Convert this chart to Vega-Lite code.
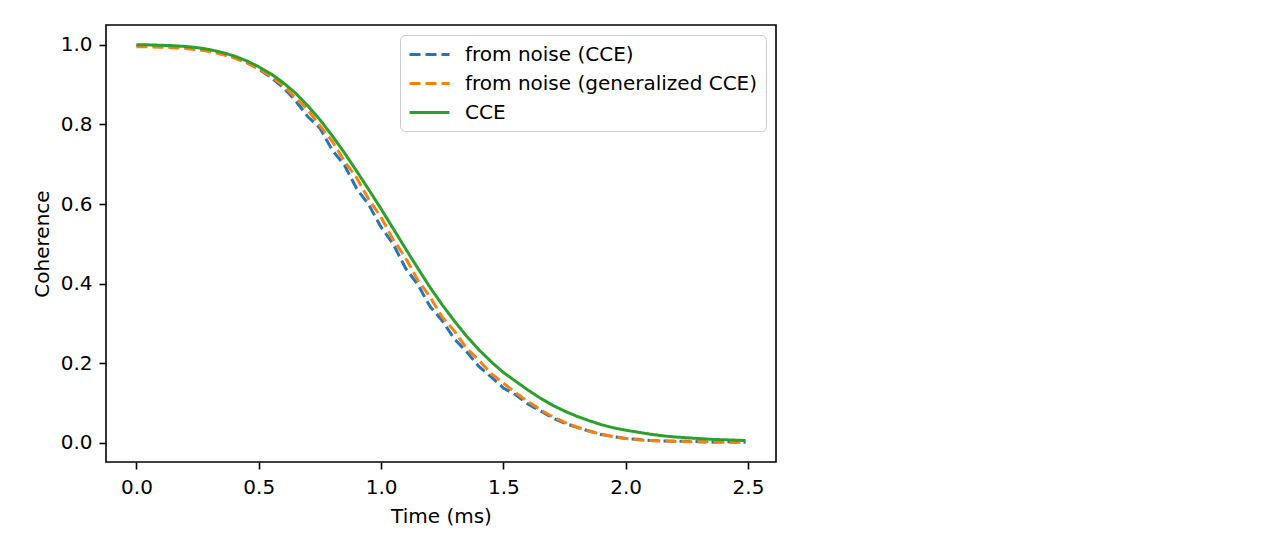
{
  "$schema": "https://vega.github.io/schema/vega-lite/v6.json",
  "width": 670,
  "height": 437,
  "autosize": {"type": "none"},
  "padding": {"left": 106, "top": 25, "right": 499, "bottom": 80},
  "background": "white",
  "datasets": {
    "blue": [
      {"t":0.00,"v":0.998,"s":"from noise (CCE)"},{"t":0.05,"v":0.999,"s":"from noise (CCE)"},{"t":0.10,"v":0.997,"s":"from noise (CCE)"},{"t":0.15,"v":0.996,"s":"from noise (CCE)"},{"t":0.20,"v":0.994,"s":"from noise (CCE)"},
      {"t":0.25,"v":0.990,"s":"from noise (CCE)"},{"t":0.30,"v":0.986,"s":"from noise (CCE)"},{"t":0.35,"v":0.978,"s":"from noise (CCE)"},{"t":0.40,"v":0.969,"s":"from noise (CCE)"},{"t":0.45,"v":0.956,"s":"from noise (CCE)"},
      {"t":0.50,"v":0.939,"s":"from noise (CCE)"},{"t":0.55,"v":0.918,"s":"from noise (CCE)"},{"t":0.60,"v":0.893,"s":"from noise (CCE)"},{"t":0.65,"v":0.860,"s":"from noise (CCE)"},{"t":0.70,"v":0.820,"s":"from noise (CCE)"},
      {"t":0.75,"v":0.791,"s":"from noise (CCE)"},{"t":0.80,"v":0.736,"s":"from noise (CCE)"},{"t":0.85,"v":0.698,"s":"from noise (CCE)"},{"t":0.90,"v":0.639,"s":"from noise (CCE)"},{"t":0.95,"v":0.598,"s":"from noise (CCE)"},
      {"t":1.00,"v":0.542,"s":"from noise (CCE)"},{"t":1.05,"v":0.499,"s":"from noise (CCE)"},{"t":1.10,"v":0.439,"s":"from noise (CCE)"},{"t":1.15,"v":0.398,"s":"from noise (CCE)"},{"t":1.20,"v":0.343,"s":"from noise (CCE)"},
      {"t":1.25,"v":0.307,"s":"from noise (CCE)"},{"t":1.30,"v":0.261,"s":"from noise (CCE)"},{"t":1.35,"v":0.229,"s":"from noise (CCE)"},{"t":1.40,"v":0.192,"s":"from noise (CCE)"},{"t":1.45,"v":0.166,"s":"from noise (CCE)"},
      {"t":1.50,"v":0.138,"s":"from noise (CCE)"},{"t":1.55,"v":0.121,"s":"from noise (CCE)"},{"t":1.60,"v":0.098,"s":"from noise (CCE)"},{"t":1.65,"v":0.081,"s":"from noise (CCE)"},{"t":1.70,"v":0.063,"s":"from noise (CCE)"},
      {"t":1.75,"v":0.050,"s":"from noise (CCE)"},{"t":1.80,"v":0.039,"s":"from noise (CCE)"},{"t":1.85,"v":0.030,"s":"from noise (CCE)"},{"t":1.90,"v":0.021,"s":"from noise (CCE)"},{"t":1.95,"v":0.016,"s":"from noise (CCE)"},
      {"t":2.00,"v":0.011,"s":"from noise (CCE)"},{"t":2.05,"v":0.009,"s":"from noise (CCE)"},{"t":2.10,"v":0.006,"s":"from noise (CCE)"},{"t":2.15,"v":0.005,"s":"from noise (CCE)"},{"t":2.20,"v":0.004,"s":"from noise (CCE)"},
      {"t":2.25,"v":0.004,"s":"from noise (CCE)"},{"t":2.30,"v":0.003,"s":"from noise (CCE)"},{"t":2.35,"v":0.002,"s":"from noise (CCE)"},{"t":2.40,"v":0.003,"s":"from noise (CCE)"},{"t":2.45,"v":0.002,"s":"from noise (CCE)"},
      {"t":2.49,"v":0.002,"s":"from noise (CCE)"}
    ],
    "orange": [
      {"t":0.00,"v":0.995,"s":"from noise (generalized CCE)"},{"t":0.05,"v":0.995,"s":"from noise (generalized CCE)"},{"t":0.10,"v":0.994,"s":"from noise (generalized CCE)"},{"t":0.15,"v":0.993,"s":"from noise (generalized CCE)"},{"t":0.20,"v":0.991,"s":"from noise (generalized CCE)"},
      {"t":0.25,"v":0.988,"s":"from noise (generalized CCE)"},{"t":0.30,"v":0.983,"s":"from noise (generalized CCE)"},{"t":0.35,"v":0.976,"s":"from noise (generalized CCE)"},{"t":0.40,"v":0.967,"s":"from noise (generalized CCE)"},{"t":0.45,"v":0.955,"s":"from noise (generalized CCE)"},
      {"t":0.50,"v":0.940,"s":"from noise (generalized CCE)"},{"t":0.55,"v":0.921,"s":"from noise (generalized CCE)"},{"t":0.60,"v":0.898,"s":"from noise (generalized CCE)"},{"t":0.65,"v":0.867,"s":"from noise (generalized CCE)"},{"t":0.70,"v":0.837,"s":"from noise (generalized CCE)"},
      {"t":0.75,"v":0.797,"s":"from noise (generalized CCE)"},{"t":0.80,"v":0.758,"s":"from noise (generalized CCE)"},{"t":0.85,"v":0.708,"s":"from noise (generalized CCE)"},{"t":0.90,"v":0.666,"s":"from noise (generalized CCE)"},{"t":0.95,"v":0.611,"s":"from noise (generalized CCE)"},
      {"t":1.00,"v":0.567,"s":"from noise (generalized CCE)"},{"t":1.05,"v":0.510,"s":"from noise (generalized CCE)"},{"t":1.10,"v":0.465,"s":"from noise (generalized CCE)"},{"t":1.15,"v":0.409,"s":"from noise (generalized CCE)"},{"t":1.20,"v":0.367,"s":"from noise (generalized CCE)"},
      {"t":1.25,"v":0.316,"s":"from noise (generalized CCE)"},{"t":1.30,"v":0.281,"s":"from noise (generalized CCE)"},{"t":1.35,"v":0.237,"s":"from noise (generalized CCE)"},{"t":1.40,"v":0.208,"s":"from noise (generalized CCE)"},{"t":1.45,"v":0.174,"s":"from noise (generalized CCE)"},
      {"t":1.50,"v":0.150,"s":"from noise (generalized CCE)"},{"t":1.55,"v":0.126,"s":"from noise (generalized CCE)"},{"t":1.60,"v":0.104,"s":"from noise (generalized CCE)"},{"t":1.65,"v":0.084,"s":"from noise (generalized CCE)"},{"t":1.70,"v":0.066,"s":"from noise (generalized CCE)"},
      {"t":1.75,"v":0.052,"s":"from noise (generalized CCE)"},{"t":1.80,"v":0.040,"s":"from noise (generalized CCE)"},{"t":1.85,"v":0.030,"s":"from noise (generalized CCE)"},{"t":1.90,"v":0.022,"s":"from noise (generalized CCE)"},{"t":1.95,"v":0.016,"s":"from noise (generalized CCE)"},
      {"t":2.00,"v":0.011,"s":"from noise (generalized CCE)"},{"t":2.05,"v":0.008,"s":"from noise (generalized CCE)"},{"t":2.10,"v":0.006,"s":"from noise (generalized CCE)"},{"t":2.15,"v":0.005,"s":"from noise (generalized CCE)"},{"t":2.20,"v":0.004,"s":"from noise (generalized CCE)"},
      {"t":2.25,"v":0.003,"s":"from noise (generalized CCE)"},{"t":2.30,"v":0.003,"s":"from noise (generalized CCE)"},{"t":2.35,"v":0.003,"s":"from noise (generalized CCE)"},{"t":2.40,"v":0.002,"s":"from noise (generalized CCE)"},{"t":2.45,"v":0.002,"s":"from noise (generalized CCE)"},
      {"t":2.49,"v":0.002,"s":"from noise (generalized CCE)"}
    ],
    "green": [
      {"t":0.00,"v":1.000,"s":"CCE"},{"t":0.05,"v":1.000,"s":"CCE"},{"t":0.10,"v":0.999,"s":"CCE"},{"t":0.15,"v":0.998,"s":"CCE"},{"t":0.20,"v":0.996,"s":"CCE"},
      {"t":0.25,"v":0.993,"s":"CCE"},{"t":0.30,"v":0.988,"s":"CCE"},{"t":0.35,"v":0.981,"s":"CCE"},{"t":0.40,"v":0.972,"s":"CCE"},{"t":0.45,"v":0.960,"s":"CCE"},
      {"t":0.50,"v":0.945,"s":"CCE"},{"t":0.55,"v":0.927,"s":"CCE"},{"t":0.60,"v":0.905,"s":"CCE"},{"t":0.65,"v":0.879,"s":"CCE"},{"t":0.70,"v":0.847,"s":"CCE"},
      {"t":0.75,"v":0.812,"s":"CCE"},{"t":0.80,"v":0.772,"s":"CCE"},{"t":0.85,"v":0.729,"s":"CCE"},{"t":0.90,"v":0.683,"s":"CCE"},{"t":0.95,"v":0.636,"s":"CCE"},
      {"t":1.00,"v":0.588,"s":"CCE"},{"t":1.05,"v":0.538,"s":"CCE"},{"t":1.10,"v":0.488,"s":"CCE"},{"t":1.15,"v":0.439,"s":"CCE"},{"t":1.20,"v":0.391,"s":"CCE"},
      {"t":1.25,"v":0.347,"s":"CCE"},{"t":1.30,"v":0.306,"s":"CCE"},{"t":1.35,"v":0.268,"s":"CCE"},{"t":1.40,"v":0.234,"s":"CCE"},{"t":1.45,"v":0.204,"s":"CCE"},
      {"t":1.50,"v":0.177,"s":"CCE"},{"t":1.55,"v":0.155,"s":"CCE"},{"t":1.60,"v":0.133,"s":"CCE"},{"t":1.65,"v":0.113,"s":"CCE"},{"t":1.70,"v":0.095,"s":"CCE"},
      {"t":1.75,"v":0.080,"s":"CCE"},{"t":1.80,"v":0.067,"s":"CCE"},{"t":1.85,"v":0.056,"s":"CCE"},{"t":1.90,"v":0.046,"s":"CCE"},{"t":1.95,"v":0.038,"s":"CCE"},
      {"t":2.00,"v":0.032,"s":"CCE"},{"t":2.05,"v":0.027,"s":"CCE"},{"t":2.10,"v":0.022,"s":"CCE"},{"t":2.15,"v":0.018,"s":"CCE"},{"t":2.20,"v":0.015,"s":"CCE"},
      {"t":2.25,"v":0.013,"s":"CCE"},{"t":2.30,"v":0.011,"s":"CCE"},{"t":2.35,"v":0.009,"s":"CCE"},{"t":2.40,"v":0.008,"s":"CCE"},{"t":2.45,"v":0.007,"s":"CCE"},
      {"t":2.49,"v":0.006,"s":"CCE"}
    ]
  },
  "encoding": {
    "x": {
      "field": "t", "type": "quantitative",
      "scale": {"domain": [-0.1245, 2.6145], "nice": false, "zero": false},
      "axis": {"values": [0, 0.5, 1, 1.5, 2, 2.5], "format": ".1f", "title": "Time (ms)", "labelPadding": 8, "titlePadding": 9}
    },
    "y": {
      "field": "v", "type": "quantitative",
      "scale": {"domain": [-0.0479, 1.0499], "nice": false, "zero": false},
      "axis": {"values": [0, 0.2, 0.4, 0.6, 0.8, 1.0], "format": ".1f", "title": "Coherence"}
    },
    "color": {
      "field": "s", "type": "nominal",
      "scale": {
        "domain": ["from noise (CCE)", "from noise (generalized CCE)", "CCE"],
        "range": ["#1f77b4", "#ff7f0e", "#2ca02c"]
      },
      "legend": {"title": null}
    },
    "strokeDash": {
      "field": "s", "type": "nominal",
      "scale": {
        "domain": ["from noise (CCE)", "from noise (generalized CCE)", "CCE"],
        "range": [[11, 5], [11, 5], [1, 0]]
      },
      "legend": {"title": null}
    }
  },
  "layer": [
    {"data": {"name": "blue"}, "mark": {"type": "line", "strokeWidth": 3, "clip": true}},
    {"data": {"name": "orange"}, "mark": {"type": "line", "strokeWidth": 3, "clip": true}},
    {"data": {"name": "green"}, "mark": {"type": "line", "strokeWidth": 3, "clip": true}}
  ],
  "config": {
    "font": "DejaVu Sans",
    "view": {"stroke": "black", "strokeWidth": 1.6},
    "axis": {
      "grid": false, "domain": false,
      "tickSize": 7, "tickWidth": 1.6, "tickColor": "black",
      "labelFont": "DejaVu Sans", "labelFontSize": 20, "labelColor": "black", "labelPadding": 7,
      "titleFont": "DejaVu Sans", "titleFontSize": 20, "titleFontWeight": "normal", "titleColor": "black", "titlePadding": 8
    },
    "legend": {
      "orient": "top-right", "offset": 10, "padding": 8,
      "fillColor": "rgba(255,255,255,0.8)", "strokeColor": "#cccccc", "cornerRadius": 5,
      "labelFont": "DejaVu Sans", "labelFontSize": 20, "labelColor": "black", "labelLimit": 400,
      "symbolType": "M-1,0H3", "symbolSize": 400, "symbolStrokeWidth": 3,
      "labelOffset": 34, "rowPadding": 7
    }
  }
}
